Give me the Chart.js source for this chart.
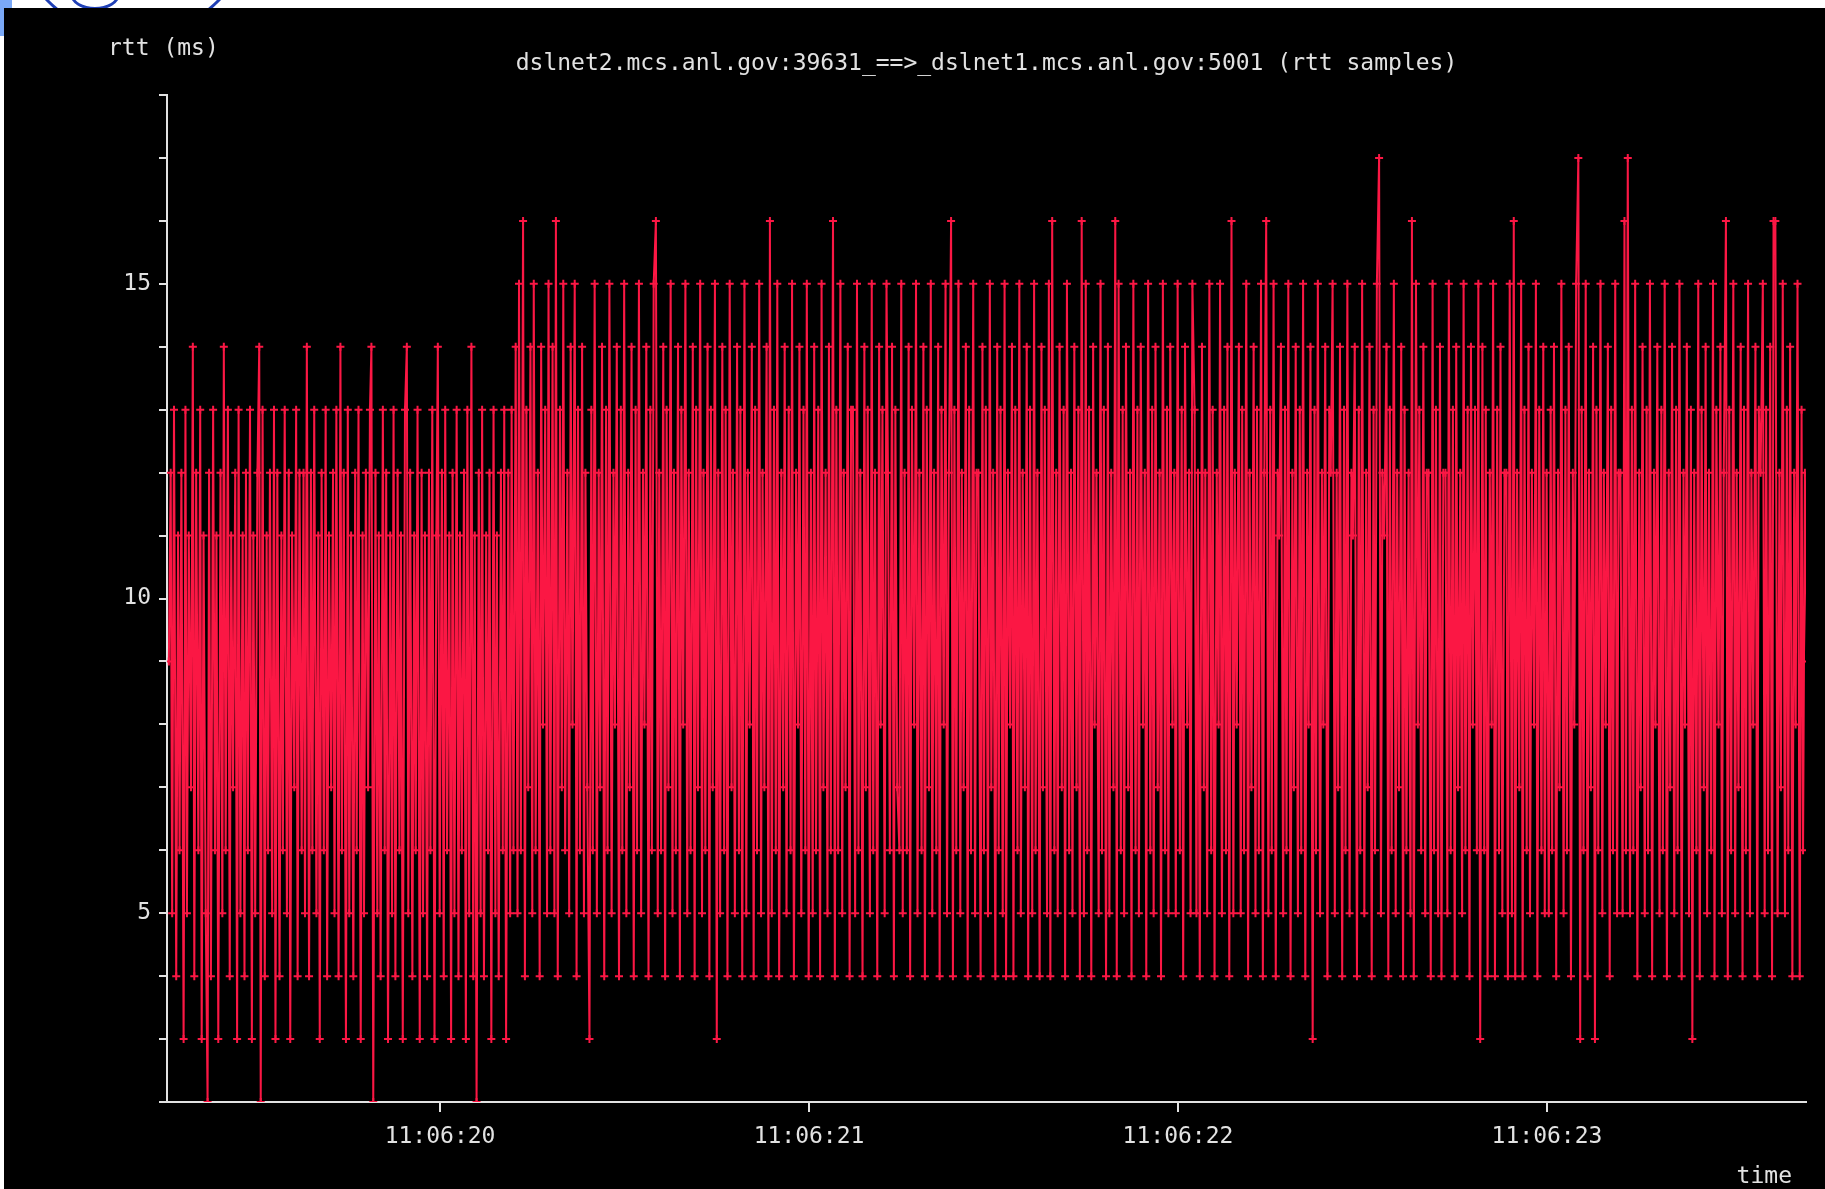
<!DOCTYPE html>
<html>
<head>
<meta charset="utf-8">
<script src="https://cdn.jsdelivr.net/npm/chart.js@4.4.1/dist/chart.umd.min.js"></script>
<style>
  body { margin: 0; width: 1825px; height: 1189px; background: #fff; overflow: hidden; position: relative; }
  #panel { position: absolute; left: 4px; top: 8px; width: 1821px; height: 1181px; background: #000; }
  #strip { position: absolute; left: 0; top: 0; width: 300px; height: 8px; overflow: hidden; }
  .ring { position: absolute; border-style: solid; border-color: #1f3fb5; border-radius: 50%; }
  #wedge { position: absolute; left: 0; top: 0; width: 4px; height: 36px; background: #7aa8f7; }
</style>
</head>
<body>
<div id="strip">
  <div style="position:absolute;left:0;top:0;width:12px;height:8px;background:#7aa8f7"></div>
  <div class="ring" style="left:12px;top:-204px;width:236px;height:236px;border-width:3px"></div>
  <div class="ring" style="left:70px;top:-22px;width:44px;height:26px;border-width:3px"></div>
</div>
<div id="wedge"></div>
<div id="panel"><canvas id="rttChart"></canvas></div>
<script>
// rtt samples (ms), one array per second of 11:06:xx
// sample times are ms offsets inside that second
const ms19 = [265,270,274,279,285,290,294,299,305,310,314,319,325,330,334,339,345,350,354,359,
  365,370,374,379,385,390,394,399,405,410,414,419,425,430,434,439,445,450,454,459,
  465,470,474,479,485,490,494,499,505,510,514,519,525,530,534,539,545,550,554,559,
  565,570,574,579,585,590,594,599,605,610,614,619,625,630,634,639,645,650,654,659,
  665,670,674,679,685,690,694,699,705,710,714,719,725,730,734,739,745,750,754,759,
  765,770,774,779,785,790,794,799,805,810,814,819,825,830,834,839,845,850,854,859,
  865,870,874,879,885,890,894,899,905,910,914,919,925,930,934,939,945,950,954,959,
  965,970,974,979,985,990,994,999];

// sample times used for the full seconds 20..23
const msFull = [5,10,14,19,25,30,34,39,45,50,54,59,65,70,74,79,85,90,94,99,
  105,110,114,119,125,130,134,139,145,150,154,159,165,170,174,179,185,190,194,199,
  205,210,214,219,225,230,234,239,245,250,254,259,265,270,274,279,285,290,294,299,
  305,310,314,319,325,330,334,339,345,350,354,359,365,370,374,379,385,390,394,399,
  405,410,414,419,425,430,434,439,445,450,454,459,465,470,474,479,485,490,494,499,
  505,510,514,519,525,530,534,539,545,550,554,559,565,570,574,579,585,590,594,599,
  605,610,614,619,625,630,634,639,645,650,654,659,665,670,674,679,685,690,694,699,
  705,710,714,719,725,730,734,739,745,750,754,759,765,770,774,779,785,790,794,799,
  805,810,814,819,825,830,834,839,845,850,854,859,865,870,874,879,885,890,894,899,
  905,910,914,919,925,930,934,939,945,950,954,959,965,970,974,979,985,990,994,999];

const rtt19 = [9,12,5,13,4,11,6,12,3,13,5,11,7,14,4,12,6,13,3,11,
  5,2,12,4,13,6,11,3,12,5,14,6,13,4,11,7,12,3,13,5,
  11,4,12,6,13,3,11,5,12,14,2,13,4,11,6,12,5,13,3,12,
  4,11,6,13,5,12,3,11,7,13,4,12,6,12,5,14,4,12,6,13,
  5,11,3,12,6,13,4,11,7,12,5,13,4,14,6,12,3,13,5,11,
  4,12,6,13,3,11,5,12,7,13,14,2,12,5,11,4,13,6,12,3,
  11,5,13,4,12,6,11,3,13,14,5,12,4,11,6,13,3,12,5,11,
  4,12,6,13,3,11,14,5];

const rtt20 = [12,4,13,6,11,3,12,5,13,4,11,6,12,3,13,5,14,4,11,2,
  12,5,13,4,11,6,12,3,13,5,11,4,12,6,13,3,12,5,13,6,
  14,5,15,6,16,4,13,7,14,5,15,6,12,4,14,8,13,5,15,6,
  14,5,16,4,13,7,15,6,12,5,14,8,15,4,13,6,14,5,12,7,
  3,13,6,15,5,12,7,14,4,13,6,15,5,12,8,14,4,13,6,15,
  5,12,7,14,4,13,6,15,5,12,8,14,4,13,6,15,16,5,12,6,
  14,4,13,7,15,5,12,6,14,4,13,8,15,5,12,6,14,4,13,7,
  15,5,12,6,14,4,13,7,15,3,12,5,14,6,13,4,15,7,12,5,
  14,6,13,4,15,5,12,8,14,4,13,6,15,5,12,7,14,4,16,5,
  13,6,15,4,12,7,14,5,13,6,15,4,12,8,14,5,13,6,15,4];

const rtt21 = [12,5,14,6,13,4,15,7,12,5,14,6,16,4,13,6,15,5,12,7,
  14,4,13,13,5,15,6,12,4,14,7,13,5,15,6,12,4,14,8,13,
  5,15,12,6,14,4,13,7,6,15,5,12,6,14,4,13,8,15,5,12,
  6,14,4,13,7,15,5,12,6,14,4,13,8,15,5,12,16,4,13,6,
  15,5,12,7,14,4,13,6,15,5,12,12,4,14,6,13,5,15,7,12,
  4,14,6,13,5,15,4,12,8,14,4,13,6,15,5,12,7,14,4,13,
  5,15,6,12,4,14,7,13,5,15,4,16,6,12,5,14,7,13,4,15,
  6,12,5,14,7,13,4,16,5,15,6,13,4,14,8,12,5,15,6,13,
  4,14,5,12,7,16,4,15,6,13,5,14,7,12,4,15,6,13,5,14,
  8,12,4,15,6,13,5,14,7,12,4,15,6,13,5,14,8,12,5,15];

const rtt22 = [6,13,4,14,8,12,5,15,13,5,12,4,14,7,12,5,15,6,13,4,
  12,8,15,5,13,6,14,4,16,5,12,8,14,5,13,6,15,4,12,7,
  14,5,13,6,15,4,12,16,5,13,6,15,4,12,11,14,5,13,6,15,
  4,12,7,14,5,13,6,15,4,12,8,14,3,13,6,15,5,12,8,14,
  4,13,12,15,5,12,7,14,4,13,6,15,5,12,11,14,4,13,6,15,
  5,12,7,14,4,13,6,15,17,5,12,11,14,4,13,6,15,5,12,7,
  14,4,13,6,12,5,16,4,15,8,13,6,14,5,12,12,4,15,6,13,
  5,14,4,12,12,5,15,6,13,4,14,7,12,5,15,6,13,4,14,8,
  13,6,15,3,14,6,13,4,12,8,15,4,13,6,14,5,12,12,4,15,
  5,16,4,12,7,15,4,13,6,14,5,12,8,15,4,13,6,14,5,12];

const rtt23 = [5,13,6,14,4,12,7,15,5,13,6,14,4,12,8,15,17,3,13,6,
  15,4,12,7,14,3,13,6,15,5,12,8,14,4,13,6,15,5,12,12,
  5,16,6,17,5,13,6,15,4,12,7,14,5,13,6,15,4,12,8,14,
  5,13,6,15,4,12,7,14,5,13,6,15,4,12,8,14,5,13,3,12,
  6,15,4,13,7,14,5,12,6,15,4,13,8,14,5,12,16,4,13,6,
  15,5,12,7,14,4,13,6,15,5,12,8,14,4,13,12,15,5,13,6,
  14,4,16,16,5,12,7,15,5,13,6,14,4,12,8,15,4,13,6,12,
  9,10];

const secondTicks = [20, 21, 22, 23];
const rttTicks = [2,3,4,5,6,7,8,9,10,11,12,13,14,15,16,17,18];
const rttLabelled = [5, 10, 15];

const titleText = 'dslnet2.mcs.anl.gov:39631_==>_dslnet1.mcs.anl.gov:5001 (rtt samples)';
const lineColor = '#fb1744';
const axisColor = '#e2e2e2';
const monoFont = 'DejaVu Sans Mono';

function toPoints(second, msList, rttList) {
  return rttList.map((v, i) => ({ x: second + msList[i] / 1000, y: v }));
}

const samples = [].concat(
  toPoints(19, ms19, rtt19),
  toPoints(20, msFull, rtt20),
  toPoints(21, msFull, rtt21),
  toPoints(22, msFull, rtt22),
  toPoints(23, msFull, rtt23)
);

// texts around the plot (title, axis names)
const labelsPlugin = {
  id: 'xplotLabels',
  afterDraw(chart) {
    const c = chart.ctx;
    const area = chart.chartArea;
    c.save();
    c.fillStyle = axisColor;
    c.font = '23px "' + monoFont + '"';
    c.textBaseline = 'middle';
    c.textAlign = 'center';
    c.fillText(titleText, (area.left + area.right) / 2, 56);
    c.textAlign = 'left';
    c.fillText('rtt (ms)', 104, 41);
    c.textAlign = 'right';
    c.fillText('time', 1788, 1169);
    c.restore();
  }
};

const ctx = document.getElementById('rttChart').getContext('2d');
const chart = new Chart(ctx, {
  type: 'line',
  data: {
    datasets: [{
      data: samples,
      borderColor: lineColor,
      backgroundColor: lineColor,
      borderWidth: 2,
      tension: 0,
      pointStyle: 'cross',
      pointRadius: 4,
      pointBorderWidth: 2,
      pointBorderColor: lineColor,
      pointHoverRadius: 0
    }]
  },
  options: {
    responsive: true,
    maintainAspectRatio: false,
    animation: false,
    events: [],
    layout: { padding: { top: 87, right: 19, left: 0, bottom: 0 } },
    scales: {
      x: {
        type: 'linear',
        min: 19.26,
        max: 23.702,
        afterFit(scale) { scale.height = 87; },
        afterBuildTicks(scale) { scale.ticks = secondTicks.map(v => ({ value: v })); },
        ticks: {
          color: axisColor,
          font: { family: monoFont, size: 23 },
          padding: 11,
          autoSkip: false,
          maxRotation: 0,
          callback: v => '11:06:' + v
        },
        grid: { drawOnChartArea: false, tickLength: 10, color: axisColor, lineWidth: 2 },
        border: { color: axisColor, width: 2 }
      },
      y: {
        min: 2,
        max: 18,
        afterFit(scale) { scale.width = 163; },
        afterBuildTicks(scale) { scale.ticks = rttTicks.map(v => ({ value: v })); },
        ticks: {
          color: axisColor,
          font: { family: monoFont, size: 23 },
          padding: 8,
          autoSkip: false,
          callback: v => rttLabelled.includes(v) ? String(v) : ''
        },
        grid: { drawOnChartArea: false, tickLength: 8, color: axisColor, lineWidth: 2 },
        border: { color: axisColor, width: 2 }
      }
    },
    plugins: {
      legend: { display: false },
      tooltip: { enabled: false }
    }
  },
  plugins: [labelsPlugin]
});
</script>
</body>
</html>
